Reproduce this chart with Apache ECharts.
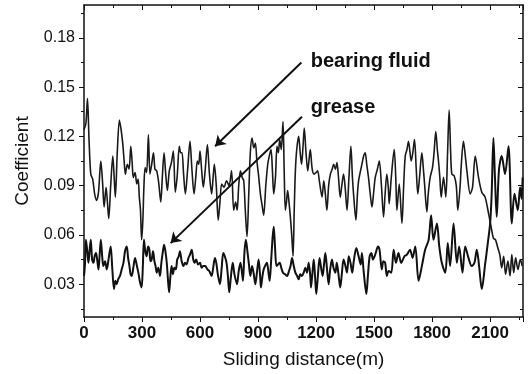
<!DOCTYPE html>
<html>
<head>
<meta charset="utf-8">
<script src="https://cdn.jsdelivr.net/npm/echarts@6/dist/echarts.min.js"></script>
<style>
html, body { margin: 0; padding: 0; background: #fff; }
#main { width: 529px; height: 374px; }
</style>
</head>
<body>
<div id="main"></div>
<script>
// sliding distance (m) and friction coefficient
var fluidX = [0,10,18,26,35,45,55,65,75,87,96,104,114,121,128,138,149,156,162,172,183,192,200,207,214,224,233,242,249,255,264,273,280,286,292,298,304,310,316,324,333,341,350,359,367,376,386,397,405,414,422,431,441,452,462,472,482,493,500,507,515,524,536,548,558,569,578,586,593,600,608,617,627,638,648,660,667,674,684,694,703,712,724,737,750,763,774,784,792,800,809,818,826,834,843,852,860,869,878,886,894,902,912,921,929,940,950,958,967,974,981,990,998,1005,1012,1020,1029,1035,1041,1047,1053,1060,1067,1074,1081,1087,1093,1100,1110,1118,1125,1132,1139,1148,1157,1163,1170,1180,1190,1200,1208,1218,1231,1240,1248,1256,1265,1274,1283,1291,1300,1308,1316,1325,1333,1342,1351,1360,1370,1380,1388,1395,1406,1414,1420,1428,1437,1446,1454,1462,1471,1480,1489,1497,1506,1517,1527,1538,1549,1557,1566,1574,1578,1589,1604,1612,1618,1630,1644,1653,1661,1670,1678,1692,1700,1709,1718,1726,1735,1747,1755,1761,1773,1780,1790,1802,1810,1819,1827,1833,1840,1847,1859,1871,1880,1888,1896,1902,1914,1925,1933,1945,1950,1962,1970,1980,1997,2009,2023,2040,2057,2074,2092,2105,2117,2128,2140,2150,2160,2170,2180,2192,2203,2212,2222,2232,2244,2256,2266];
var fluidY = [0.124,0.128,0.143,0.118,0.097,0.094,0.085,0.081,0.086,0.105,0.092,0.077,0.089,0.080,0.070,0.090,0.108,0.095,0.083,0.110,0.130,0.124,0.116,0.106,0.097,0.103,0.100,0.114,0.104,0.095,0.098,0.091,0.094,0.083,0.075,0.057,0.068,0.090,0.101,0.098,0.121,0.097,0.103,0.110,0.100,0.099,0.092,0.080,0.095,0.110,0.098,0.087,0.099,0.104,0.111,0.086,0.096,0.114,0.110,0.110,0.097,0.085,0.100,0.117,0.100,0.085,0.095,0.105,0.103,0.111,0.100,0.089,0.100,0.115,0.098,0.085,0.094,0.103,0.090,0.069,0.080,0.091,0.089,0.093,0.090,0.099,0.075,0.080,0.075,0.090,0.099,0.095,0.093,0.075,0.059,0.085,0.110,0.119,0.113,0.116,0.105,0.097,0.085,0.078,0.072,0.090,0.103,0.108,0.112,0.100,0.085,0.095,0.114,0.110,0.118,0.112,0.129,0.100,0.075,0.080,0.087,0.080,0.071,0.060,0.047,0.075,0.099,0.112,0.120,0.110,0.103,0.113,0.125,0.110,0.099,0.105,0.112,0.100,0.097,0.098,0.099,0.092,0.083,0.093,0.085,0.075,0.090,0.097,0.100,0.103,0.100,0.104,0.095,0.083,0.090,0.097,0.088,0.075,0.095,0.114,0.095,0.083,0.069,0.085,0.093,0.098,0.103,0.108,0.110,0.103,0.095,0.085,0.077,0.085,0.095,0.100,0.105,0.090,0.071,0.085,0.097,0.088,0.079,0.095,0.112,0.095,0.075,0.091,0.067,0.090,0.108,0.112,0.117,0.105,0.110,0.118,0.100,0.085,0.095,0.110,0.100,0.091,0.074,0.085,0.095,0.101,0.110,0.123,0.112,0.105,0.095,0.083,0.095,0.083,0.110,0.136,0.110,0.097,0.096,0.090,0.075,0.090,0.101,0.117,0.110,0.099,0.085,0.089,0.108,0.095,0.086,0.083,0.073,0.065,0.058,0.057,0.052,0.048,0.040,0.047,0.036,0.044,0.035,0.048,0.037,0.046,0.039,0.045,0.041];

var greaseX = [0,5,10,17,23,30,35,42,49,55,62,68,75,81,87,94,100,109,118,128,138,146,155,162,169,177,186,195,204,212,221,228,235,241,247,255,264,272,281,290,298,304,310,317,324,331,338,344,350,357,364,370,376,384,393,400,408,414,421,428,434,440,447,453,460,467,475,482,490,496,505,514,522,530,540,548,557,565,572,580,590,600,608,617,627,638,648,660,668,677,684,692,703,712,720,728,737,744,751,760,769,778,791,800,809,818,822,830,837,845,852,860,869,878,886,895,903,910,915,923,929,940,946,955,960,968,975,981,988,995,1003,1012,1020,1029,1040,1050,1060,1068,1076,1083,1093,1102,1110,1118,1127,1136,1145,1153,1162,1170,1174,1182,1188,1195,1201,1210,1218,1226,1234,1241,1248,1256,1265,1272,1282,1290,1300,1307,1316,1325,1333,1342,1350,1360,1369,1378,1387,1395,1408,1420,1431,1437,1446,1460,1468,1477,1486,1494,1503,1511,1520,1528,1540,1548,1557,1566,1575,1589,1601,1613,1626,1640,1657,1670,1686,1699,1713,1730,1747,1764,1782,1795,1807,1825,1837,1850,1868,1881,1893,1911,1928,1940,1957,1971,1988,2005,2019,2031,2043,2057,2074,2088,2100,2108,2117,2125,2134,2146,2160,2177,2195,2212,2226,2243,2255,2263,2268];
var greaseY = [0.035,0.042,0.057,0.050,0.043,0.052,0.057,0.045,0.043,0.047,0.049,0.045,0.039,0.048,0.057,0.047,0.041,0.044,0.039,0.046,0.053,0.040,0.027,0.032,0.030,0.033,0.035,0.039,0.043,0.050,0.053,0.046,0.041,0.036,0.035,0.040,0.046,0.042,0.037,0.031,0.028,0.040,0.057,0.050,0.047,0.053,0.051,0.044,0.045,0.050,0.044,0.041,0.037,0.040,0.035,0.043,0.050,0.054,0.050,0.043,0.033,0.025,0.035,0.041,0.036,0.040,0.039,0.045,0.047,0.050,0.044,0.041,0.043,0.042,0.046,0.048,0.051,0.045,0.043,0.045,0.042,0.043,0.040,0.041,0.041,0.039,0.038,0.035,0.040,0.046,0.043,0.036,0.030,0.040,0.049,0.047,0.043,0.035,0.025,0.035,0.043,0.036,0.030,0.038,0.043,0.036,0.032,0.050,0.057,0.050,0.043,0.035,0.041,0.036,0.030,0.038,0.045,0.036,0.028,0.035,0.039,0.042,0.043,0.036,0.032,0.045,0.058,0.065,0.052,0.041,0.042,0.043,0.040,0.037,0.036,0.035,0.038,0.041,0.046,0.042,0.037,0.035,0.033,0.036,0.035,0.037,0.040,0.037,0.043,0.035,0.028,0.038,0.045,0.034,0.024,0.036,0.046,0.040,0.035,0.042,0.049,0.040,0.030,0.038,0.045,0.040,0.037,0.043,0.036,0.028,0.036,0.045,0.042,0.037,0.047,0.043,0.037,0.044,0.052,0.047,0.042,0.049,0.038,0.024,0.035,0.047,0.049,0.045,0.047,0.050,0.053,0.051,0.039,0.044,0.043,0.035,0.038,0.037,0.051,0.043,0.049,0.043,0.047,0.048,0.051,0.046,0.053,0.032,0.041,0.051,0.057,0.072,0.057,0.067,0.053,0.043,0.037,0.055,0.041,0.067,0.043,0.053,0.037,0.053,0.046,0.041,0.043,0.051,0.041,0.027,0.042,0.055,0.067,0.085,0.119,0.095,0.071,0.100,0.108,0.097,0.114,0.067,0.085,0.075,0.089,0.082,0.095];

var xTicks = { min: 0, max: 2270, step: 300 };
var yLabelValues = [0.03, 0.06, 0.09, 0.12, 0.15, 0.18];
var yMinorValues = [0.015, 0.045, 0.075, 0.105, 0.135, 0.165, 0.195];

// annotation arrows [from, to] and texts, in data units
var fluidArrow = [[1124, 0.165], [678, 0.114]];
var greaseArrow = [[1127, 0.132], [448, 0.055]];
var noteFluid = [1170, 0.1653, 'bearing fluid'];
var noteGrease = [1170, 0.1373, 'grease'];

function pairs(xs, ys) {
    return xs.map(function (x, i) { return [x, ys[i]]; });
}

var ink = '#111';
var font = 'Liberation Sans, Arial, sans-serif';

function yAx(position, inside, values, len, labels) {
    return {
        type: 'value', min: 0.01, max: 0.2, position: position,
        axisLine: { show: labels, lineStyle: { color: ink, width: 1.5 } },
        axisTick: { show: true, inside: inside, length: len, customValues: values, lineStyle: { color: ink, width: 1 } },
        axisLabel: labels ? {
            show: true, customValues: values, margin: 9, color: ink,
            fontFamily: font, fontSize: 16,
            formatter: function (v) { return v.toFixed(2); }
        } : { show: false },
        splitLine: { show: false }
    };
}

var myChart = echarts.init(document.getElementById('main'));

var option = {
    animation: false,
    backgroundColor: '#fff',
    grid: { left: 84, right: 6, top: 5, bottom: 57 },
    xAxis: [
        {
            type: 'value', min: xTicks.min, max: xTicks.max, interval: xTicks.step,
            position: 'bottom',
            name: 'Sliding distance(m)', nameLocation: 'middle', nameGap: 33,
            nameTextStyle: { fontFamily: font, fontSize: 19, color: ink },
            axisLine: { lineStyle: { color: ink, width: 1.5 } },
            axisTick: { length: 5, lineStyle: { color: ink } },
            minorTick: { show: true, splitNumber: 2, length: 3, lineStyle: { color: ink } },
            axisLabel: {
                fontFamily: font, fontSize: 17, fontWeight: 'bold', color: ink, margin: 8,
                showMaxLabel: false,
                formatter: function (v) { return String(v); }
            },
            splitLine: { show: false }
        },
        {
            type: 'value', min: xTicks.min, max: xTicks.max, interval: xTicks.step,
            position: 'top',
            axisLine: { lineStyle: { color: ink, width: 1.5 } },
            axisTick: { inside: true, length: 5, lineStyle: { color: ink } },
            minorTick: { show: true, splitNumber: 2, length: 3, lineStyle: { color: ink } },
            axisLabel: { show: false },
            splitLine: { show: false }
        }
    ],
    yAxis: [
        (function () {
            var a = yAx('left', false, yLabelValues, 5, true);
            a.name = 'Coefficient';
            a.nameLocation = 'middle';
            a.nameGap = 52;
            a.nameTextStyle = { fontFamily: font, fontSize: 19, color: ink };
            return a;
        })(),
        yAx('left', false, yMinorValues, 3, false),
        (function () {
            var a = yAx('right', true, yLabelValues, 5, false);
            a.axisLine = { show: true, lineStyle: { color: ink, width: 1.5 } };
            return a;
        })(),
        yAx('right', true, yMinorValues, 3, false)
    ],
    series: [
        {
            name: 'bearing fluid', type: 'line', data: pairs(fluidX, fluidY),
            showSymbol: false, smooth: 0.3,
            lineStyle: { color: '#1a1a1a', width: 1.6 },
            markLine: {
                silent: true, symbol: ['none', 'arrow'], symbolSize: 10,
                lineStyle: { color: ink, width: 2, type: 'solid' },
                label: { show: false },
                data: [
                    [{ coord: fluidArrow[0] }, { coord: fluidArrow[1] }],
                    [{ coord: greaseArrow[0] }, { coord: greaseArrow[1] }]
                ]
            },
            markPoint: {
                silent: true, symbol: 'circle', symbolSize: 1,
                itemStyle: { color: 'rgba(0,0,0,0)' },
                label: {
                    show: true, position: 'right', distance: 0,
                    fontFamily: font, fontSize: 20, fontWeight: 'bold', color: ink,
                    formatter: function (p) { return p.name; }
                },
                data: [
                    { name: noteFluid[2], coord: [noteFluid[0], noteFluid[1]] },
                    { name: noteGrease[2], coord: [noteGrease[0], noteGrease[1]] }
                ]
            }
        },
        {
            name: 'grease', type: 'line', data: pairs(greaseX, greaseY),
            showSymbol: false, smooth: 0.3,
            lineStyle: { color: '#111', width: 2 }
        }
    ]
};
myChart.setOption(option);
</script>
</body>
</html>
